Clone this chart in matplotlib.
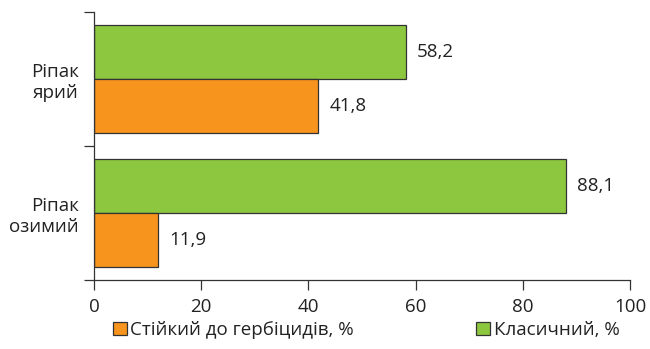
import numpy as np
import matplotlib.pyplot as plt

plt.rcParams['font.family'] = ['Open Sans', 'DejaVu Sans']

crops = ["Ріпак\nярий", "Ріпак\nозимий"]
klasychnyi = [58.2, 88.1]
stiikyi = [41.8, 11.9]
series_names = ["Стійкий до гербіцидів, %", "Класичний, %"]

green = '#8dc63f'
orange = '#f7941d'
fs = 13.5

fig = plt.figure(figsize=(6.5, 3.49), dpi=100)
ax = fig.add_axes([94/650, 1 - 280/349, 536/650, 268/349])

pos = np.arange(len(crops)) + 0.5
h = 0.4
b_green = ax.barh(pos - h/2, klasychnyi, height=h, color=green,
                  edgecolor='#333333', linewidth=0.9, label=series_names[1])
b_orange = ax.barh(pos + h/2, stiikyi, height=h, color=orange,
                   edgecolor='#333333', linewidth=0.9, label=series_names[0])

for bars, vals in [(b_green, klasychnyi), (b_orange, stiikyi)]:
    ax.bar_label(bars, labels=[f"{v:.1f}".replace('.', ',') for v in vals],
                 padding=8, fontsize=fs, color='#222222')

ax.set_xlim(0, 100)
ax.set_ylim(2, 0)
ax.set_xticks([0, 20, 40, 60, 80, 100])
ax.tick_params(axis='x', labelsize=fs, length=7, width=0.9, pad=6,
               color='#333333', labelcolor='#222222')
ax.set_yticks([0, 1, 2])
ax.set_yticklabels([])
ax.set_yticks(pos, minor=True)
ax.set_yticklabels(crops, minor=True, fontsize=fs, color='#222222',
                   ha='right', multialignment='right', linespacing=1.25)
ax.tick_params(axis='y', which='major', length=7, width=0.9, color='#333333')
ax.tick_params(axis='y', which='minor', length=0, pad=11)

for s in ['top', 'right']:
    ax.spines[s].set_visible(False)
for s in ['left', 'bottom']:
    ax.spines[s].set_linewidth(0.9)
    ax.spines[s].set_color('#333333')

handles = [b_orange, b_green]
fig.legend(handles, series_names, loc='center', bbox_to_anchor=(366/650, 1 - 330/349),
           ncol=2, frameon=False, fontsize=fs, handlelength=0.75, handleheight=0.75,
           handletextpad=0.2, columnspacing=6.5, borderpad=0, labelcolor='#222222')

fig.savefig('out.png', dpi=100)
